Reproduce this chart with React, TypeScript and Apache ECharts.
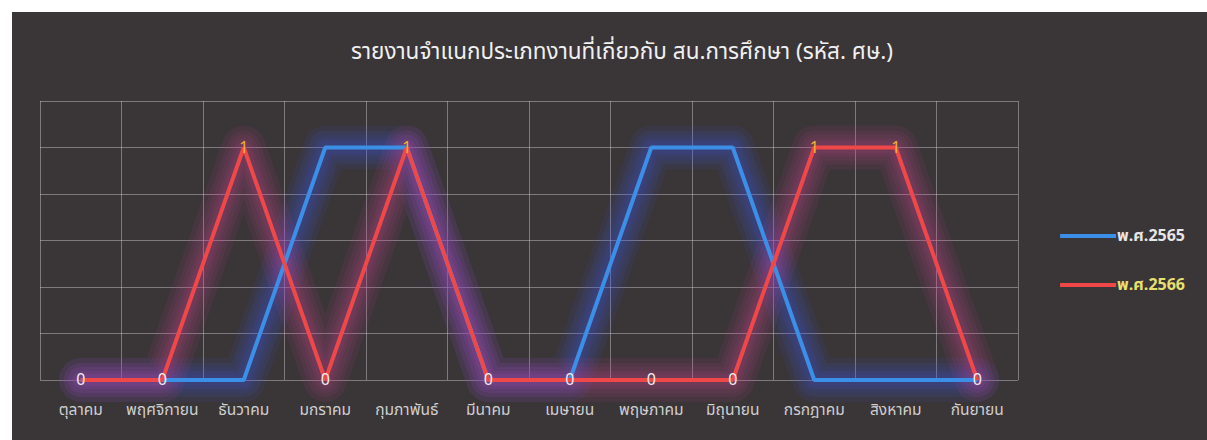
import React, { useEffect, useRef } from "react";
import * as echarts from "echarts";

const months = [
  "ตุลาคม",
  "พฤศจิกายน",
  "ธันวาคม",
  "มกราคม",
  "กุมภาพันธ์",
  "มีนาคม",
  "เมษายน",
  "พฤษภาคม",
  "มิถุนายน",
  "กรกฎาคม",
  "สิงหาคม",
  "กันยายน",
];

const year2565 = [0, 0, 0, 1, 1, 0, 0, 1, 1, 0, 0, 0];
const year2566 = [0, 0, 1, 0, 1, 0, 0, 0, 0, 1, 1, 0];

const seriesNames = ["พ.ศ.2565", "พ.ศ.2566"];
const titleText = "รายงานจำแนกประเภทงานที่เกี่ยวกับ สน.การศึกษา (รหัส. ศษ.)";

const BLUE = "#3b8fe6";
const RED = "#f04848";
const BLUE_GLOW = "rgba(60,90,240,0.085)";
const RED_GLOW = "rgba(210,70,150,0.085)";
const GLOW_WIDTHS = [44, 34, 26, 18, 12];
const FONT = "Tahoma, 'Noto Sans Thai', 'DejaVu Sans', sans-serif";

// soft halo under each line, built from stacked translucent strokes
const glowLayers = (data: number[], color: string) =>
  GLOW_WIDTHS.map((w) => ({
    type: "line",
    data,
    z: 1,
    silent: true,
    symbol: "none",
    lineStyle: {
      color,
      width: w,
      join: "round",
      cap: "round",
    },
  }));

export default function App() {
  const ref = useRef<HTMLDivElement>(null);

  useEffect(() => {
    if (!ref.current) return;
    const chart = echarts.init(ref.current, undefined, { renderer: "svg" });

    chart.setOption({
      animation: false,
      backgroundColor: "#3a3537",
      title: {
        text: titleText,
        left: 605,
        top: 23,
        textAlign: "center",
        textStyle: {
          color: "#f0f0f0",
          fontSize: 22.5,
          fontWeight: "normal",
          fontFamily: FONT,
        },
      },
      legend: {
        orient: "vertical",
        right: 17,
        top: 209,
        itemGap: 29,
        itemWidth: 56,
        itemHeight: 4,
        icon: "rect",
        data: [
          {
            name: seriesNames[0],
            itemStyle: { color: BLUE },
            textStyle: { color: "#e6e6e6" },
          },
          {
            name: seriesNames[1],
            itemStyle: { color: RED },
            textStyle: { color: "#e8e070" },
          },
        ],
        textStyle: {
          fontSize: 16,
          lineHeight: 20,
          fontWeight: "bold",
          fontFamily: FONT,
          padding: [0, 0, 0, -4],
        },
      },
      grid: {
        left: 28,
        top: 89,
        right: 189,
        bottom: 60,
        containLabel: false,
      },
      xAxis: {
        type: "category",
        data: months,
        boundaryGap: true,
        axisLine: { show: false },
        axisTick: { show: false },
        splitLine: {
          show: true,
          lineStyle: { color: "rgba(210,205,210,0.45)", width: 1 },
        },
        axisLabel: {
          color: "#cfcfcf",
          fontSize: 15.5,
          fontFamily: FONT,
          margin: 22,
          interval: 0,
        },
      },
      yAxis: {
        type: "value",
        min: 0,
        max: 1.2,
        interval: 0.2,
        axisLine: { show: false },
        axisTick: { show: false },
        axisLabel: { show: false },
        splitLine: {
          lineStyle: { color: "rgba(210,205,210,0.45)", width: 1 },
        },
      },
      series: [
        ...glowLayers(year2565, BLUE_GLOW),
        ...glowLayers(year2566, RED_GLOW),
        {
          name: seriesNames[0],
          type: "line",
          data: year2565,
          z: 2,
          symbol: "none",
          color: BLUE,
          lineStyle: {
            color: BLUE,
            width: 4,
          },
          itemStyle: { color: BLUE },
        },
        {
          name: seriesNames[1],
          type: "line",
          data: year2566.map((v) => ({
            value: v,
            label: {
              color: v === 1 ? "#f0b030" : "#eeeeee",
            },
          })),
          z: 3,
          symbol: "circle",
          symbolSize: 1,
          color: RED,
          lineStyle: {
            color: RED,
            width: 4,
          },
          itemStyle: { color: "transparent" },
          label: {
            show: true,
            position: "inside",
            fontSize: 16,
            fontFamily: FONT,
            formatter: (p: any) => String(p.value),
          },
        },
      ],
    });

    return () => chart.dispose();
  }, []);

  return (
    <div
      style={{
        position: "absolute",
        left: 0,
        top: 0,
        width: 1207,
        height: 440,
        background: "#ffffff",
      }}
    >
      <div
        ref={ref}
        style={{
          position: "absolute",
          left: 12,
          top: 12,
          width: 1195,
          height: 428,
        }}
      />
    </div>
  );
}
